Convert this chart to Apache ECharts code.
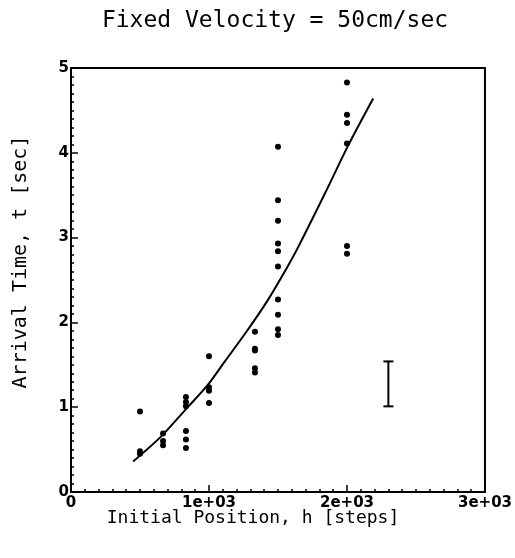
<!DOCTYPE html>
<html>
<head>
<meta charset="utf-8">
<script src="https://cdn.jsdelivr.net/npm/echarts@6/dist/echarts.min.js"></script>
<style>
  html, body { margin: 0; padding: 0; background: #fff; }
  #chart { width: 515px; height: 558px; }
</style>
</head>
<body>
<div id="chart"></div>
<script>
// measured arrival times, one list per starting position
const positions = [500, 667, 833, 1000, 1333, 1500, 2000]
const times = [
    [0.95, 0.48, 0.45],
    [0.69, 0.60, 0.55],
    [1.12, 1.06, 1.01, 0.72, 0.62, 0.52],
    [1.60, 1.235, 1.195, 1.05],
    [1.89, 1.69, 1.67, 1.46, 1.41],
    [4.07, 3.44, 3.20, 2.93, 2.84, 2.66, 2.27, 2.09, 1.92, 1.85],
    [4.83, 4.45, 4.35, 4.11, 2.90, 2.81]
]
// fitted curve
const curveX = [450, 650, 840, 990, 1115, 1280, 1425, 1570, 1650, 1840, 2010, 2190]
const curveY = [0.36, 0.65, 0.99, 1.26, 1.54, 1.91, 2.26, 2.66, 2.90, 3.52, 4.09, 4.64]
// typical error bar
const errBar = [2300, 1.01, 1.54]
const xTickLabels = ['0', '1e+03', '2e+03', '3e+03']
const yTickLabels = ['0', '1', '2', '3', '4', '5']

const scatterData = []
positions.forEach((p, i) => {
    times[i].forEach(t => scatterData.push([p, t]))
})
const curveData = curveX.map((x, i) => [x, curveY[i]])

const chart = echarts.init(document.getElementById('chart'))
const font = 'DejaVu Sans'
const mono = '"DejaVu Sans Mono"'
const black = { color: '#000', width: 1.5 }

// major axis (labels + long ticks) and a second one on the same edge for the short ticks
function makeAxes(min, max, major, minor, labels) {
    return [
        {
            type: 'value', min: min, max: max, interval: major,
            axisLine: { show: true, lineStyle: { color: '#000', width: 2 } },
            axisTick: { show: true, inside: true, length: 7, lineStyle: black },
            splitLine: { show: false },
            axisLabel: { color: '#000', fontFamily: font, fontWeight: 'bold', fontSize: 15, margin: 4,
                formatter: v => labels[Math.round((v - min) / major)] }
        },
        {
            type: 'value', min: min, max: max, interval: minor,
            axisLine: { show: false },
            axisTick: { show: true, inside: true, length: 3, lineStyle: black },
            splitLine: { show: false },
            axisLabel: { show: false }
        }
    ]
}
const xAxes = makeAxes(0, 3000, 1000, 100, xTickLabels)
xAxes.forEach(a => a.position = 'bottom')
const yAxes = makeAxes(0, 5, 1, 0.1, yTickLabels)
yAxes.forEach(a => a.position = 'left')
yAxes[0].axisLabel.margin = 2

const option = {
    animation: false,
    backgroundColor: '#fff',
    graphic: [
        { type: 'text', x: 275, y: 21, style: { text: 'Fixed Velocity = 50cm/sec', font: '23px ' + mono, fill: '#000', align: 'center', verticalAlign: 'middle' } },
        { type: 'text', x: 253, y: 518, style: { text: 'Initial Position, h [steps]', font: '18px ' + mono, fill: '#000', align: 'center', verticalAlign: 'middle' } },
        { type: 'text', x: 21, y: 262, rotation: Math.PI / 2, style: { text: 'Arrival Time, t [sec]', font: '20px ' + mono, fill: '#000', align: 'center', verticalAlign: 'middle' } }
    ],
    grid: { left: 71, right: 28, top: 68, bottom: 66, show: true, borderColor: '#000', borderWidth: 2 },
    xAxis: xAxes,
    yAxis: yAxes,
    series: [
        {
            type: 'scatter', data: scatterData, symbolSize: 6,
            itemStyle: { color: '#000', opacity: 1 }
        },
        {
            type: 'line', data: curveData, smooth: 0.3, showSymbol: false,
            lineStyle: { color: '#000', width: 2 }
        },
        {
            type: 'custom', data: [errBar],
            renderItem: (params, api) => {
                const lo = api.coord([api.value(0), api.value(1)])
                const hi = api.coord([api.value(0), api.value(2)])
                const w = 5
                const st = { stroke: '#000', lineWidth: 2 }
                return {
                    type: 'group',
                    children: [
                        { type: 'line', shape: { x1: lo[0], y1: lo[1], x2: hi[0], y2: hi[1] }, style: st },
                        { type: 'line', shape: { x1: lo[0] - w, y1: lo[1], x2: lo[0] + w, y2: lo[1] }, style: st },
                        { type: 'line', shape: { x1: hi[0] - w, y1: hi[1], x2: hi[0] + w, y2: hi[1] }, style: st }
                    ]
                }
            }
        }
    ]
}
chart.setOption(option)
</script>
</body>
</html>
